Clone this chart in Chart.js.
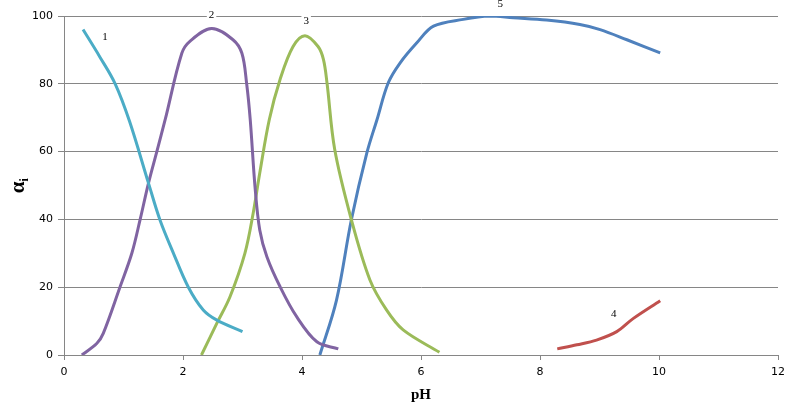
<!DOCTYPE html>
<html>
<head>
<meta charset="utf-8">
<script src="https://cdn.jsdelivr.net/npm/chart.js@4.4.0/dist/chart.umd.min.js"></script>
<style>
  html, body { margin: 0; padding: 0; background: #fff; }
</style>
</head>
<body>
<canvas id="chart" width="792" height="410"></canvas>
<script>
// curve 1
const ph1 = [0.32, 0.6, 0.86, 1.1, 1.42, 1.61, 1.84, 2.09, 2.34, 2.57, 3.0];
const a1 = [96, 88, 80, 69, 50.7, 40, 30, 20, 13.3, 10.3, 6.9];
// curve 2
const ph2 = [0.30, 0.55, 0.66, 0.94, 1.14, 1.28, 1.42, 1.56, 1.70, 1.98, 2.12, 2.48, 2.84, 2.99, 3.07, 3.13, 3.21, 3.29, 3.41, 3.63, 3.91, 4.25, 4.61];
const a2 = [0, 3.4, 6.4, 20, 30, 40, 50.7, 60, 69.4, 89, 92.6, 96.3, 93, 89, 80, 69.4, 49.7, 36.9, 29, 20.2, 11.3, 3.9, 1.8];
// curve 3
const ph3 = [2.31, 2.57, 2.79, 3.04, 3.18, 3.29, 3.45, 3.63, 3.85, 4.05, 4.27, 4.36, 4.42, 4.55, 4.83, 5.14, 5.42, 5.70, 6.31];
const a3 = [0, 9.4, 17.2, 30, 41.9, 53.7, 69.4, 81.2, 91, 94.2, 91, 87.2, 80.3, 60.6, 39.9, 22.2, 13.3, 7.4, 0.8];
// curve 4
const ph4 = [8.29, 8.62, 8.95, 9.29, 9.57, 10.02];
const a4 = [1.8, 3, 4.4, 6.9, 10.8, 16];
// curve 5
const ph5 = [4.30, 4.58, 4.83, 5.09, 5.26, 5.45, 5.65, 5.93, 6.21, 6.71, 7.15, 7.55, 8.11, 8.67, 9.01, 9.46, 10.02];
const a5 = [0, 16.2, 39.9, 59.6, 69.4, 80.3, 86.2, 92.1, 97, 99, 100, 99.5, 98.8, 97.5, 96, 93, 89.1];

// curve labels
const curveNames = ["1", "2", "3", "4", "5"];
const nameX = [0.69, 2.48, 4.07, 9.24, 7.33];
const nameY = [93.7, 100.2, 98.6, 12.1, 103.4];

const xTitle = "pH";
const yTitle = "α";
const ySub = "i";

const pts = (xs, ys) => xs.map((x, i) => ({ x, y: ys[i] }));

const series = [
    { data: pts(ph1, a1), color: '#4BACC6' },
    { data: pts(ph2, a2), color: '#8064A2' },
    { data: pts(ph3, a3), color: '#9BBB59' },
    { data: pts(ph4, a4), color: '#C0504D' },
    { data: pts(ph5, a5), color: '#4F81BD' }
];

const labelsPlugin = {
    id: 'curveLabels',
    afterDraw(chart) {
        const ctx = chart.ctx;
        const xs = chart.scales.x, ys = chart.scales.y;
        ctx.save();
        ctx.font = '11px "Liberation Serif", serif';
        ctx.textAlign = 'center';
        ctx.textBaseline = 'middle';
        curveNames.forEach((t, i) => {
            const px = xs.getPixelForValue(nameX[i]);
            const py = ys.getPixelForValue(nameY[i]);
            const w = ctx.measureText(t).width;
            ctx.fillStyle = '#fff';
            ctx.fillRect(px - w / 2 - 2, py - 6, w + 4, 12);
            ctx.fillStyle = '#000';
            ctx.fillText(t, px, py);
        });

        // axis titles
        ctx.font = 'bold 15px "Liberation Serif", serif';
        ctx.fillText(xTitle, (chart.chartArea.left + chart.chartArea.right) / 2, 395);

        ctx.translate(19, (chart.chartArea.top + chart.chartArea.bottom) / 2);
        ctx.rotate(-Math.PI / 2);
        ctx.font = 'bold 21px "Liberation Serif", serif';
        ctx.textAlign = 'right';
        ctx.textBaseline = 'alphabetic';
        ctx.fillText(yTitle, 4, 5);
        ctx.font = 'bold 12px "Liberation Serif", serif';
        ctx.textAlign = 'left';
        ctx.fillText(ySub, 4, 9);
        ctx.restore();
    }
};

new Chart(document.getElementById('chart').getContext('2d'), {
    type: 'line',
    data: {
        datasets: series.map(s => ({
            data: s.data,
            borderColor: s.color,
            backgroundColor: s.color,
            borderWidth: 3,
            pointRadius: 0,
            fill: false,
            tension: 0.35
        }))
    },
    options: {
        responsive: false,
        animation: false,
        layout: { padding: { left: 0, top: 16, right: 14, bottom: 0 } },
        plugins: { legend: { display: false }, tooltip: { enabled: false } },
        scales: {
            x: {
                type: 'linear', min: 0, max: 12,
                afterFit: s => { s.height = 55; },
                border: { display: true, color: '#868686', width: 1 },
                grid: { drawOnChartArea: false, color: '#868686', tickLength: 5 },
                ticks: { stepSize: 2, color: '#000', padding: 6, maxRotation: 0, font: { family: 'DejaVu Sans', size: 11 } }
            },
            y: {
                min: 0, max: 100,
                afterFit: s => { s.width = 64; },
                border: { display: true, color: '#868686', width: 1 },
                grid: { color: '#868686', tickLength: 6 },
                ticks: { stepSize: 20, color: '#000', padding: 5, font: { family: 'DejaVu Sans', size: 11 } }
            }
        }
    },
    plugins: [labelsPlugin]
});
</script>
</body>
</html>
